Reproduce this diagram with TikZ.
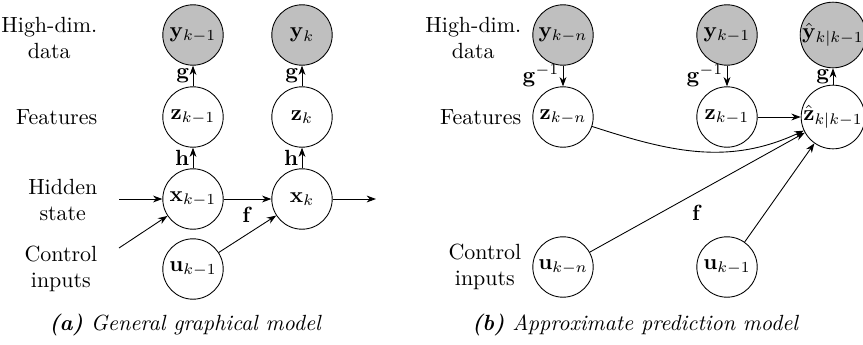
\documentclass[tikz,border=0pt]{standalone}
\usepackage{amsmath}
\usepackage{tikz}
\usetikzlibrary{arrows.meta,positioning}
\definecolor{obsgrey}{HTML}{BFBFBF}
\tikzset{
  var node/.style   = {circle, draw=black, fill=white, minimum size=27.5pt,
                       inner sep=0pt},
  obs node/.style   = {var node, fill=obsgrey},
  row label/.style  = {anchor=east, align=center},
  link/.style       = {-{Stealth[length=1.5mm,width=1.1mm]}, black},
  edge label/.style = {inner sep=1.5pt},
  sub caption/.style = {font=\itshape},
}

\begin{document}
\begin{tikzpicture}[x=0.16mm, y=-0.16mm]
  \useasboundingbox (0,0) rectangle (863,344);
  % (a) general graphical model
  \node[obs node] (ya) at (193,35)  {$\mathbf{y}_{k-1}$};
  \node[obs node] (yb) at (302,35)  {$\mathbf{y}_{k}$};
  \node[var node] (za) at (193,117) {$\mathbf{z}_{k-1}$};
  \node[var node] (zb) at (302,117) {$\mathbf{z}_{k}$};
  \node[var node] (xa) at (193,199) {$\mathbf{x}_{k-1}$};
  \node[var node] (xb) at (302,199) {$\mathbf{x}_{k}$};
  \node[var node] (ua) at (193,269) {$\mathbf{u}_{k-1}$};

  \node[row label] (data-a)    at (105,38)  {High-dim.\\data};
  \node[row label] (feat-a)    at (105,117) {Features};
  \node[row label] (hidden-a)  at (105,200) {Hidden\\state};
  \node[row label] (control-a) at (105,269) {Control\\inputs};

  \coordinate (xin)  at (119,199);
  \coordinate (uin)  at (119,248);
  \coordinate (xout) at (376,199);

  \draw[link] (za) -- node[left, edge label] (ga) {$\mathbf{g}$} (ya);
  \draw[link] (zb) -- node[left, edge label] (gb) {$\mathbf{g}$} (yb);
  \draw[link] (xa) -- node[left, edge label] (ha) {$\mathbf{h}$} (za);
  \draw[link] (xb) -- node[left, edge label] (hb) {$\mathbf{h}$} (zb);
  \draw[link] (xin) -- (xa);
  \draw[link] (uin) -- (xa);
  \draw[link] (xa) -- node[below=2pt, edge label] (fa) {$\mathbf{f}$} (xb);
  \draw[link] (ua) -- (xb);
  \draw[link] (xb) -- (xout);

  \node[sub caption] (cap-a) at (185,325)
    {\textbf{(a)} General graphical model};

  % (b) approximate prediction model
  \node[obs node] (yn) at (563,35)  {$\mathbf{y}_{k-n}$};
  \node[obs node] (y1) at (727,35)  {$\mathbf{y}_{k-1}$};
  \node[obs node] (yh) at (833,35)  {$\hat{\mathbf{y}}_{k|k-1}$};
  \node[var node] (zn) at (563,117) {$\mathbf{z}_{k-n}$};
  \node[var node] (z1) at (727,117) {$\mathbf{z}_{k-1}$};
  \node[var node] (zh) at (833,117) {$\hat{\mathbf{z}}_{k|k-1}$};
  \node[var node] (un) at (563,267) {$\mathbf{u}_{k-n}$};
  \node[var node] (u1) at (727,267) {$\mathbf{u}_{k-1}$};

  \node[row label] (data-b)    at (529,38)  {High-dim.\\data};
  \node[row label] (feat-b)    at (529,117) {Features};
  \node[row label] (control-b) at (529,267) {Control\\inputs};

  \draw[link] (yn) -- node[left, edge label] (gin) {$\mathbf{g}^{-1}$} (zn);
  \draw[link] (y1) -- node[left, edge label] (gi1) {$\mathbf{g}^{-1}$} (z1);
  \draw[link] (zh) -- node[left, edge label] (gh) {$\mathbf{g}$} (yh);
  \draw[link] (z1) -- (zh);
  \draw[link] (zn) to[out=-18, in=205] (zh);
  \draw[link] (un) -- node[below=4pt, edge label] (fb) {$\mathbf{f}$} (zh);
  \draw[link] (u1) -- (zh);

  \node[sub caption] (cap-b) at (635,325)
    {\textbf{(b)} Approximate prediction model};
\end{tikzpicture}
\end{document}
